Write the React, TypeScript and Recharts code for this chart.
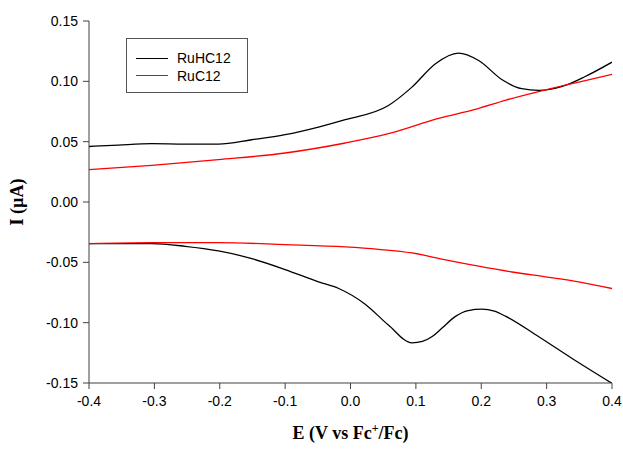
import React from 'react';
import { LineChart, Line, XAxis, YAxis, Legend } from 'recharts';

// RuHC12 – anodic (upper) branch
const ruhcUpperE = [-0.4, -0.355, -0.304, -0.253, -0.202, -0.151, -0.1, -0.049, -0.008, 0.058, 0.094, 0.13, 0.165, 0.196, 0.232, 0.262, 0.288, 0.324, 0.359, 0.4];
const ruhcUpperI = [0.046, 0.0472, 0.0483, 0.048, 0.048, 0.0516, 0.0558, 0.0621, 0.0682, 0.08, 0.0952, 0.1146, 0.1234, 0.1173, 0.1013, 0.0939, 0.0925, 0.0958, 0.104, 0.1159];
// RuHC12 – cathodic (lower) branch
const ruhcLowerE = [-0.4, -0.304, -0.253, -0.202, -0.151, -0.1, -0.049, -0.018, 0.0225, 0.058, 0.094, 0.11, 0.125, 0.14, 0.16, 0.18, 0.201, 0.22, 0.237, 0.288, 0.339, 0.4];
const ruhcLowerI = [-0.0345, -0.0345, -0.0367, -0.0405, -0.0469, -0.056, -0.0662, -0.0717, -0.0847, -0.102, -0.1167, -0.1155, -0.1115, -0.1045, -0.095, -0.09, -0.0888, -0.0905, -0.0946, -0.1117, -0.1297, -0.1503];
// RuC12 – upper branch
const rucUpperE = [-0.4, -0.304, -0.202, -0.1, -0.008, 0.058, 0.136, 0.189, 0.238, 0.288, 0.33, 0.359, 0.4];
const rucUpperI = [0.0268, 0.0304, 0.0351, 0.0406, 0.0489, 0.0566, 0.0695, 0.0765, 0.0845, 0.0915, 0.097, 0.1005, 0.1057];
// RuC12 – lower branch
const rucLowerE = [-0.4, -0.304, -0.202, -0.1, -0.008, 0.043, 0.094, 0.136, 0.196, 0.247, 0.298, 0.349, 0.4];
const rucLowerI = [-0.0345, -0.0337, -0.0337, -0.0353, -0.0372, -0.0392, -0.0422, -0.0469, -0.0532, -0.058, -0.062, -0.0662, -0.0717];

const xTicks = [-0.4, -0.3, -0.2, -0.1, 0.0, 0.1, 0.2, 0.3, 0.4];
const yTicks = [-0.15, -0.1, -0.05, 0.0, 0.05, 0.1, 0.15];
const seriesNames = ['RuHC12', 'RuC12'];
const seriesColors = ['#000000', '#ff0000'];

const zip = (es: number[], is: number[]) => es.map((e, k) => ({ e, i: is[k] }));

const AXIS = '#404040';
const SANS = '"Liberation Sans", Arial, sans-serif';
const SERIF = '"Liberation Serif", "Times New Roman", serif';

const LegendBox = () => (
  <div style={{ position: 'relative', width: 122, height: 55, border: '1px solid #555', boxSizing: 'border-box', background: '#fff' }}>
    {seriesNames.map((n, k) => (
      <div key={n} style={{ position: 'absolute', left: 9, top: 10 + k * 17.5, height: 18, display: 'flex', alignItems: 'center' }}>
        <div style={{ width: 32, height: 0, borderTop: `1.5px solid ${seriesColors[k]}` }} />
        <span style={{ marginLeft: 9, fontFamily: SANS, fontSize: 14, color: '#000', lineHeight: '18px' }}>{n}</span>
      </div>
    ))}
  </div>
);

const XLabel = (props: any) => {
  const vb = props.viewBox || {};
  return (
    <text x={vb.x + vb.width / 2} y={vb.y + 56} textAnchor="middle" fontFamily={SERIF} fontWeight="bold" fontSize={18} fill="#000">
      E (V vs Fc<tspan dy={-7} fontSize={12}>+</tspan><tspan dy={7}>/Fc)</tspan>
    </text>
  );
};

const XTick = (props: any) => {
  const { x, y, payload } = props;
  return (
    <text x={x} y={y} dy="0.71em" textAnchor="middle" fontFamily={SANS} fontSize={14} fill="#000">
      {Number(payload.value).toFixed(1)}
    </text>
  );
};

export default function App() {
  return (
    <>
      <style>{'html{overflow:hidden} body{margin:8px 0 0 8px; overflow:visible} #root{overflow:visible} svg.recharts-surface{overflow:visible} .recharts-wrapper{overflow:visible}'}</style>
      <LineChart width={615} height={441} margin={{ top: 13, right: 11, bottom: 5, left: 0 }}>
        <XAxis xAxisId="m" dataKey="e" type="number" domain={[-0.4, 0.4]} ticks={xTicks} allowDataOverflow interval={0}
          height={61} stroke={AXIS} tickSize={6} tickMargin={7}
          tick={<XTick />} label={<XLabel />} />
        <XAxis xAxisId="t" orientation="top" dataKey="e" type="number" domain={[-0.4, 0.4]} height={0} tick={false} tickLine={false} stroke={AXIS} />
        <YAxis yAxisId="m" type="number" domain={[-0.15, 0.15]} ticks={yTicks} allowDataOverflow interval={0}
          tickFormatter={(v: number) => v.toFixed(2)} width={81} stroke={AXIS} tickSize={6} tickMargin={5}
          tick={{ fill: '#000', fontFamily: SANS, fontSize: 14 }}
          label={{ value: 'I (µA)', angle: -90, position: 'insideLeft', offset: 9, style: { textAnchor: 'middle', fontFamily: SERIF, fontWeight: 'bold', fontSize: 18, fill: '#000' } }} />
        <YAxis yAxisId="r" orientation="right" type="number" domain={[-0.15, 0.15]} width={0} tick={false} tickLine={false} stroke={AXIS} />
        <Legend layout="horizontal" verticalAlign="middle" align="center" content={<LegendBox />}
          wrapperStyle={{ left: 118, top: 30, width: 122, height: 55 }} />
        <Line xAxisId="m" yAxisId="m" data={zip(ruhcUpperE, ruhcUpperI)} dataKey="i" name={seriesNames[0]} type="monotone" stroke={seriesColors[0]} strokeWidth={1.3} dot={false} isAnimationActive={false} />
        <Line xAxisId="m" yAxisId="m" data={zip(ruhcLowerE, ruhcLowerI)} dataKey="i" name={seriesNames[0] + ' '} legendType="none" type="monotone" stroke={seriesColors[0]} strokeWidth={1.3} dot={false} isAnimationActive={false} />
        <Line xAxisId="m" yAxisId="m" data={zip(rucUpperE, rucUpperI)} dataKey="i" name={seriesNames[1]} type="monotone" stroke={seriesColors[1]} strokeWidth={1.3} dot={false} isAnimationActive={false} />
        <Line xAxisId="m" yAxisId="m" data={zip(rucLowerE, rucLowerI)} dataKey="i" name={seriesNames[1] + ' '} legendType="none" type="monotone" stroke={seriesColors[1]} strokeWidth={1.3} dot={false} isAnimationActive={false} />
      </LineChart>
    </>
  );
}
